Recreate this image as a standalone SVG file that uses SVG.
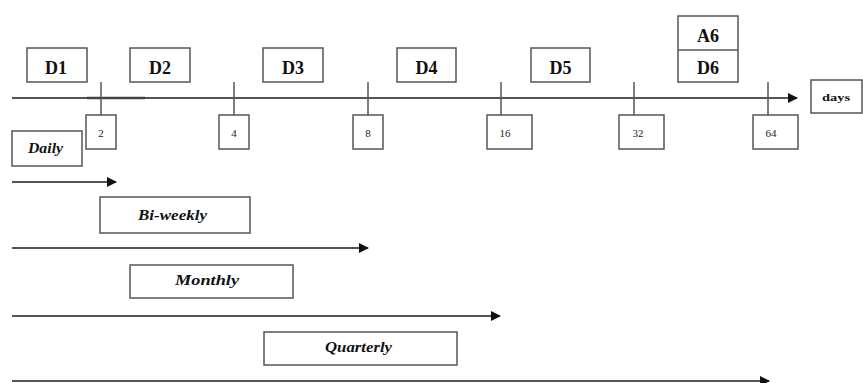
<svg xmlns="http://www.w3.org/2000/svg" width="863" height="383" viewBox="0 0 863 383">
<defs>
<marker id="ah" markerWidth="10" markerHeight="10" refX="9" refY="5" orient="auto" markerUnits="userSpaceOnUse">
<path d="M0,0 L10,5 L0,10 Z" fill="#111"/>
</marker>
<style>
.box{fill:#fff;stroke:#555;stroke-width:1.5}
.ln{stroke:#555;stroke-width:2;fill:none}
.tk{stroke:#555;stroke-width:1.5}
.dl{font-family:"Liberation Serif",serif;font-weight:bold;font-size:18px;fill:#111;text-anchor:middle}
.nl{font-family:"Liberation Serif",serif;font-size:11px;fill:#222;text-anchor:middle}
.pl{font-family:"Liberation Serif",serif;font-weight:bold;font-style:italic;font-size:14px;fill:#111;text-anchor:middle}
.ul{font-family:"Liberation Serif",serif;font-weight:bold;font-size:11px;fill:#111;text-anchor:middle}
</style>
</defs>
<rect width="863" height="383" fill="#fff"/>
<g id="connectors">
<line class="ln" x1="12" y1="98" x2="797" y2="98" marker-end="url(#ah)"/>
<line x1="87" y1="98" x2="145" y2="98" stroke="#444" stroke-width="2.5"/>
<line class="tk" x1="101" y1="82" x2="101" y2="115"/>
<line class="tk" x1="234" y1="82" x2="234" y2="115"/>
<line class="tk" x1="368" y1="82" x2="368" y2="115"/>
<line class="tk" x1="501" y1="82" x2="501" y2="115"/>
<line class="tk" x1="634" y1="82" x2="634" y2="115"/>
<line class="tk" x1="768" y1="82" x2="768" y2="115"/>
<line class="ln" x1="12" y1="182" x2="116" y2="182" marker-end="url(#ah)"/>
<line class="ln" x1="12" y1="248" x2="368" y2="248" marker-end="url(#ah)"/>
<line class="ln" x1="12" y1="316" x2="500" y2="316" marker-end="url(#ah)"/>
<line class="ln" x1="12" y1="381" x2="769" y2="381" marker-end="url(#ah)"/>
</g>
<g id="D1"><rect class="box" x="27" y="48" width="60" height="34"/><text class="dl" x="56" y="74">D1</text></g>
<g id="D2"><rect class="box" x="130" y="48" width="60" height="34"/><text class="dl" x="160" y="74">D2</text></g>
<g id="D3"><rect class="box" x="263" y="48" width="60" height="34"/><text class="dl" x="293" y="74">D3</text></g>
<g id="D4"><rect class="box" x="397" y="48" width="59" height="34"/><text class="dl" x="426.5" y="74">D4</text></g>
<g id="D5"><rect class="box" x="531" y="48" width="59" height="34"/><text class="dl" x="560.5" y="74">D5</text></g>
<g id="A6D6"><rect class="box" x="678" y="16" width="60" height="66"/><line class="tk" x1="678" y1="50" x2="738" y2="50"/><text class="dl" x="708" y="42">A6</text><text class="dl" x="708" y="74">D6</text></g>
<g id="days"><rect class="box" x="811" y="80" width="51" height="33"/><text class="ul" x="836" y="101" textLength="28" lengthAdjust="spacingAndGlyphs">days</text></g>
<g id="t2"><rect class="box" x="86" y="115" width="30" height="34"/><text class="nl" x="101" y="137">2</text></g>
<g id="t4"><rect class="box" x="219" y="115" width="30" height="34"/><text class="nl" x="234" y="137">4</text></g>
<g id="t8"><rect class="box" x="353" y="115" width="30" height="34"/><text class="nl" x="368" y="137">8</text></g>
<g id="t16"><rect class="box" x="487" y="115" width="45" height="34"/><text class="nl" x="505" y="137">16</text></g>
<g id="t32"><rect class="box" x="619" y="115" width="45" height="34"/><text class="nl" x="638" y="137">32</text></g>
<g id="t64"><rect class="box" x="753" y="115" width="45" height="34"/><text class="nl" x="771" y="137">64</text></g>
<g id="daily"><rect class="box" x="12" y="131" width="70" height="35"/><text class="pl" x="45.5" y="153" textLength="35" lengthAdjust="spacingAndGlyphs">Daily</text></g>
<g id="biweekly"><rect class="box" x="100" y="197" width="150" height="36"/><text class="pl" x="172.5" y="220" textLength="69" lengthAdjust="spacingAndGlyphs">Bi-weekly</text></g>
<g id="monthly"><rect class="box" x="130" y="265" width="163" height="33"/><text class="pl" x="207" y="285" textLength="64" lengthAdjust="spacingAndGlyphs">Monthly</text></g>
<g id="quarterly"><rect class="box" x="264" y="332" width="193" height="33"/><text class="pl" x="358.5" y="352" textLength="67" lengthAdjust="spacingAndGlyphs">Quarterly</text></g>
</svg>
